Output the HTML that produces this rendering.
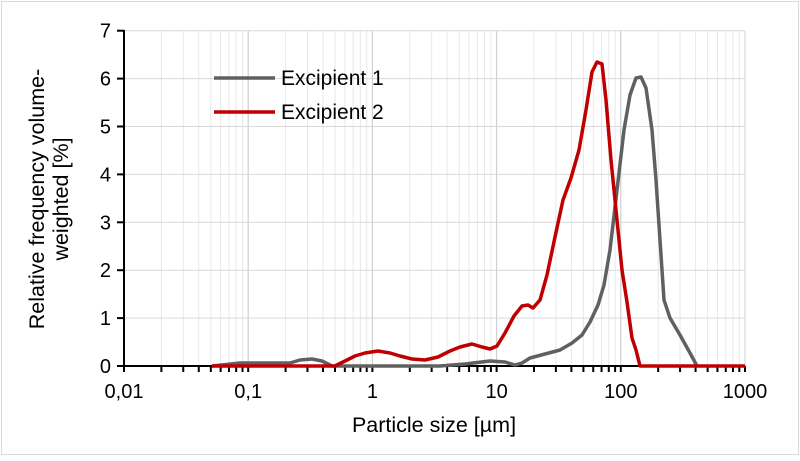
<!DOCTYPE html>
<html><head><meta charset="utf-8"><style>body{margin:0;background:#fff}</style></head><body>
<svg width="800" height="456" xmlns="http://www.w3.org/2000/svg" font-family="Liberation Sans, sans-serif">
<rect x="1.5" y="1.5" width="797" height="453" fill="#fff" stroke="#d9d9d9"/>
<g id="grid" stroke="#e3e3e3" stroke-width="1"></g>
<g id="ax" stroke="#000" stroke-width="2"></g>
<g id="lbl" font-size="20" fill="#000"></g>
<text x="434" y="432" font-size="21.5" text-anchor="middle">Particle size [µm]</text>
<text transform="translate(44,199) rotate(-90)" font-size="21.5" text-anchor="middle">Relative frequency volume-</text>
<text transform="translate(68,199) rotate(-90)" font-size="21.5" text-anchor="middle">weighted [%]</text>
<polyline fill="none" stroke="#606060" stroke-width="3.5" stroke-linejoin="round" points="212,366 240,363 290,363 300,360 312,359 322,361 332,366 440,366 465,364 490,361 505,362 515,365 522,363 530,358 545,354 560,350 572,343 582,335 590,322 598,305 604,285 610,250 617,190 624,130 630,95 636,78 641,77 646,88 652,130 656,180 660,240 664,300 670,318 680,335 690,353 697,366"/>
<polyline fill="none" stroke="#c00000" stroke-width="3.5" stroke-linejoin="round" points="212,366 335,366 345,361 355,356 365,353 378,351 390,353 400,356 412,359 425,360 438,357 450,351 460,347 472,344 482,347 490,349 497,346 505,333 514,316 522,306 528,305 533,308 540,300 547,275 555,237 563,200 571,178 579,150 586,110 592,72 597,62 602,64 606,100 611,160 617,220 622,270 627,302 632,338 636,350 640,366 745,366"/>
<line x1="214" y1="78" x2="275" y2="78" stroke="#606060" stroke-width="3.5"/>
<line x1="214" y1="112" x2="275" y2="112" stroke="#c00000" stroke-width="3.5"/>
<text x="281" y="85" font-size="21">Excipient 1</text>
<text x="281" y="119" font-size="21">Excipient 2</text>
<script>
var ns="http://www.w3.org/2000/svg",g=document.getElementById('grid'),a=document.getElementById('ax'),l=document.getElementById('lbl');
function el(p,t,o){var e=document.createElementNS(ns,t);for(var k in o)e.setAttribute(k,o[k]);p.appendChild(e);return e}
var X0=124,D=124.2;
for(var d=0;d<5;d++)for(var m=1;m<=10;m++){var x=X0+D*(d+Math.log10(m));el(g,'line',{x1:x,x2:x,y1:31,y2:366,stroke:m==1||m==10?'#d0d0d0':'#e8e8e8'});if(m<10)el(a,'line',{x1:x,x2:x,y1:366,y2:372});}
el(a,'line',{x1:745,x2:745,y1:366,y2:372});
for(var i=0;i<=7;i++){var y=366-47.9*i;el(g,'line',{x1:124,x2:745,y1:y,y2:y,stroke:'#d9d9d9'});el(a,'line',{x1:117,x2:124,y1:y,y2:y});var t=el(l,'text',{x:111,y:y+7,'text-anchor':'end'});t.textContent=i;}
el(a,'line',{x1:124,x2:124,y1:30,y2:367});el(a,'line',{x1:123,x2:745,y1:366,y2:366});
var labs=['0,01','0,1','1','10','100','1000'];for(var j=0;j<6;j++){var t=el(l,'text',{x:X0+D*j,y:398,'text-anchor':'middle'});t.textContent=labs[j];}
</script>
</svg>
</body></html>
